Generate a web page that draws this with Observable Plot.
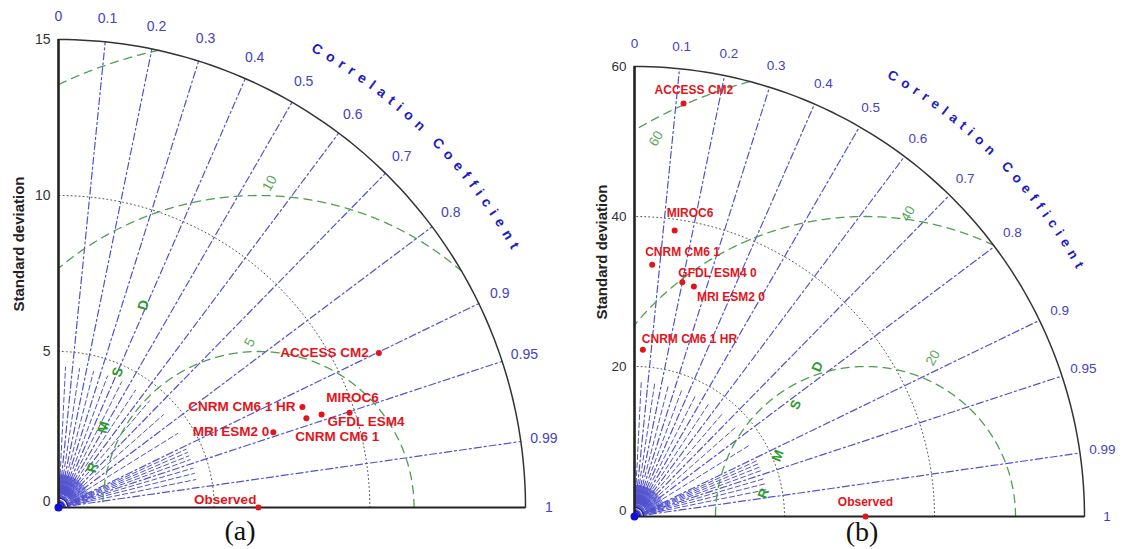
<!DOCTYPE html>
<html><head><meta charset="utf-8">
<script src="https://cdn.jsdelivr.net/npm/d3@7"></script>
<script src="https://cdn.jsdelivr.net/npm/@observablehq/plot@0.6"></script>
<style>
html,body{margin:0;padding:0;background:#fff}
body{width:1123px;height:549px;overflow:hidden;position:relative;font-family:"Liberation Sans",Arial,sans-serif}
#a{position:absolute;left:0;top:0}
#b{position:absolute;left:576px;top:0}
.cap{position:absolute;font-family:"Liberation Serif","Times New Roman",serif;font-size:28px;line-height:30px;transform:translateX(-50%);color:#111}
</style></head><body>
<div id="a"></div><div id="b"></div>
<div class="cap" style="left:240px;top:516px">(a)</div>
<div class="cap" style="left:862px;top:517px">(b)</div>
<script>
// ---------- data ----------
const corrTicks = [0, 0.1, 0.2, 0.3, 0.4, 0.5, 0.6, 0.7, 0.8, 0.9, 0.95, 0.99, 1];
const corrTickLabels = ["0", "0.1", "0.2", "0.3", "0.4", "0.5", "0.6", "0.7", "0.8", "0.9", "0.95", "0.99", "1"];
const corrMinor = [0.05, 0.15, 0.25, 0.35, 0.45, 0.55, 0.65, 0.75, 0.85, 0.91, 0.92, 0.93, 0.94, 0.96, 0.97, 0.98];

// panel (a)
const modelsA = ["ACCESS CM2", "CNRM CM6 1 HR", "CNRM CM6 1", "GFDL ESM4", "MIROC6", "MRI ESM2 0"];
const stdA = [11.42, 8.47, 8.46, 8.96, 9.83, 7.31];
const corrA = [0.901, 0.925, 0.941, 0.943, 0.951, 0.944];
const obsStdA = 6.42;
const stdTicksA = [0, 5, 10, 15];
const rmsTicksA = [5, 10, 15];

// panel (b)
const modelsB = ["ACCESS CM2", "MIROC6", "CNRM CM6 1", "GFDL ESM4 0", "MRI ESM2 0", "CNRM CM6 1 HR"];
const stdB = [55.45, 38.51, 33.64, 31.88, 31.67, 22.26];
const corrB = [0.118, 0.139, 0.070, 0.200, 0.250, 0.050];
const obsStdB = 30.8;
const stdTicksB = [0, 20, 40, 60];
const rmsTicksB = [20, 40, 60];

// ---------- styling / annotation placement ----------
const styleA = {
  width: 580, height: 522, ml: 58, mr: 55, mt: 39, mb: 15,
  tickFont: 14, corrFont: 14, modelFont: 13.5, titleFont: 14, sdFont: 15,
  title: {r: 1.125, a0: 60.5, a1: 29.8},
  sdLabelY: 244, sdLabelX: 20,
  labelOffsets: [["end", -10, 0], ["end", -7, 0], ["start", -11, 18], ["start", 6, 7], ["middle", 3, -15], ["end", -4, -1]],
  obsOffset: ["end", -2, -8],
  rmsLabel: [[93, 1.06], [88, 1.04], [88, 1.04]],
  rmsdLetters: [[1.09, 1.28], [1.45, 2.57], [1.90, 4.34], [2.73, 6.49]], rmsdRotate: -72
};
const styleB = {
  width: 547, height: 530, ml: 58, mr: 39, mt: 66, mb: 14,
  tickFont: 13.5, corrFont: 13.5, modelFont: 12, titleFont: 13.5, sdFont: 15,
  title: {r: 1.135, a0: 59.6, a1: 29.5},
  sdLabelY: 252, sdLabelX: 27,
  labelOffsets: [["start", -29, -13], ["start", -8, -17], ["start", -7, -13], ["start", -4, -9], ["start", 3, 11], ["start", -1, -11]],
  obsOffset: ["middle", 0, -14],
  rmsLabel: [[67, 1.15], [82, 1.02], [119, 0.96]],
  rmsdLetters: [[17.2, 3.07], [19.1, 8.1], [21.5, 14.9], [24.4, 20.0]], rmsdRotate: -68
};

const FONT = "Liberation Sans, Arial, sans-serif";
const BLUE_LINE = "#5252cf";
const BLUE_TXT = "#4343c4";
const BLUE_TITLE = "#1b1bc8";
const GREEN = "#4f9f4f";
const RED = "#e3151b";
const deg = Math.PI / 180;

const ctx = document.createElement("canvas").getContext("2d");
function textW(s, size) { ctx.font = `bold ${size}px ${FONT}`; return ctx.measureText(s).width; }

function taylor(sel, models, stds, corrs, obs, stdTicks, rmsTicks, st) {
  const R = stdTicks[stdTicks.length - 1];
  const pxu = (st.width - st.ml - st.mr) / R;
  const P = (r, c) => ({x: r * c, y: r * Math.sqrt(Math.max(0, 1 - c * c))});
  const inside = p => p.x >= -1e-9 && p.y >= -1e-9 && Math.hypot(p.x, p.y) <= R * 1.0005;

  // radial lines
  const major = corrTicks.filter(c => c > 0 && c < 1).flatMap(c => [{c, ...P(0, c)}, {c, ...P(R, c)}]);
  const minor = corrMinor.flatMap(c => [{c, ...P(0.02 * R, c)}, {c, ...P(0.3 * R, c)}]);
  const tiny = d3.range(1, 50).map(i => i / 50).flatMap(c => [{c, ...P(0.03 * R, c)}, {c, ...P(0.07 * R, c)}]);
  const rings = [0.012, 0.02].flatMap(f => d3.range(0, 91, 5).map(a => ({k: f, x: f * R * Math.cos(a * deg), y: f * R * Math.sin(a * deg)})));

  // std arcs
  const arcPts = (r, k) => d3.range(0, 91).map(a => ({k, x: r * Math.cos(a * deg), y: r * Math.sin(a * deg)}));
  const stdArcs = stdTicks.filter(t => t > 0 && t < R).flatMap(t => arcPts(t, t));
  const outer = arcPts(R, "o");

  // rms arcs centred on observed point
  const rmsArcs = rmsTicks.flatMap(v => d3.range(0, 1801).map(i => {
    const a = i / 10 * deg; return {k: v, x: obs + v * Math.cos(a), y: v * Math.sin(a)};
  }).filter(inside));
  const rmsLab = rmsTicks.map((v, i) => {
    const [a, f] = st.rmsLabel[i]; return {t: String(v), x: obs + v * f * Math.cos(a * deg), y: v * f * Math.sin(a * deg)};
  }).filter(inside);

  // correlation labels
  const cLab = corrTicks.map((c, i) => ({t: corrTickLabels[i], ...P(1.05 * R, c)}));

  // curved title
  const title = "Correlation Coefficient";
  const ws = [...title].map(ch => textW(ch, st.titleFont));
  const rpx = st.title.r * R * pxu;
  const L = rpx * (st.title.a0 - st.title.a1) * deg;
  const core = d3.sum(ws) - ws[0] / 2 - ws[ws.length - 1] / 2;
  const sp = (L - core) / (ws.length - 1);
  let s = 0;
  const tLetters = [...title].map((ch, i) => {
    if (i > 0) s += ws[i - 1] / 2 + sp + ws[i] / 2;
    const a = st.title.a0 * deg - s / rpx;
    return {ch, x: st.title.r * R * Math.cos(a), y: st.title.r * R * Math.sin(a), rot: 90 - a / deg};
  }).filter(d => d.ch !== " ");

  const rmsdL = ["R", "M", "S", "D"].map((ch, i) => ({ch, x: st.rmsdLetters[i][0], y: st.rmsdLetters[i][1]}));

  const pts = models.map((m, i) => ({m, ...P(stds[i], corrs[i])}));
  const obsPt = [{m: "Observed", x: obs, y: 0}];

  const marks = [
    Plot.line(stdArcs, {x: "x", y: "y", z: "k", stroke: "#555", strokeWidth: 1, strokeDasharray: "1,3"}),
    Plot.line(tiny, {x: "x", y: "y", z: "c", stroke: BLUE_LINE, strokeWidth: 0.9}),
    Plot.line(minor, {x: "x", y: "y", z: "c", stroke: BLUE_LINE, strokeWidth: 1, strokeDasharray: "5,3"}),
    Plot.line(major, {x: "x", y: "y", z: "c", stroke: BLUE_LINE, strokeWidth: 1.2, strokeDasharray: "7,3,2,3"}),
    Plot.line(rings, {x: "x", y: "y", z: "k", stroke: "#1515c8", strokeWidth: 1.2}),
    Plot.line(rmsArcs, {x: "x", y: "y", z: "k", stroke: GREEN, strokeWidth: 1.3, strokeDasharray: "8,6"}),
    Plot.line(outer, {x: "x", y: "y", stroke: "#333", strokeWidth: 1.5}),
    Plot.ruleY([0], {x1: 0, x2: R, stroke: "#222", strokeWidth: 2.2}),
    Plot.ruleX([0], {y1: 0, y2: R, stroke: "#222", strokeWidth: 2.6}),
    Plot.dot([{x: 0, y: 0}], {x: "x", y: "y", r: 4, fill: "#1010d0"}),
    Plot.text(stdTicks.filter(t => t > 0), {x: 0, y: d => d, text: d => String(d), dx: -8, textAnchor: "end", fill: "#333", fontSize: st.tickFont}),
    Plot.text([0], {x: 0, y: d => d, text: d => String(d), dx: -8, dy: -6, textAnchor: "end", fill: "#333", fontSize: st.tickFont}),
    Plot.text(cLab, {x: "x", y: "y", text: "t", fill: BLUE_TXT, fontSize: st.corrFont}),
    Plot.text(tLetters, {x: "x", y: "y", text: "ch", rotate: "rot", fill: BLUE_TITLE, fontSize: st.titleFont, fontWeight: "bold"}),
    Plot.text(rmsLab, {x: "x", y: "y", text: "t", rotate: -60, fill: "#5aa65a", fontSize: st.tickFont}),
    Plot.text(rmsdL, {x: "x", y: "y", text: "ch", rotate: st.rmsdRotate, fill: "#2f9a2f", fontSize: st.tickFont, fontWeight: "bold"}),
    Plot.dot(pts, {x: "x", y: "y", r: 3, fill: RED}),
    Plot.dot(obsPt, {x: "x", y: "y", r: 3, fill: RED}),
    ...pts.map((p, i) => Plot.text([p], {x: "x", y: "y", text: "m", textAnchor: st.labelOffsets[i][0], dx: st.labelOffsets[i][1], dy: st.labelOffsets[i][2], fill: RED, fontSize: st.modelFont, fontWeight: "bold"})),
    Plot.text(obsPt, {x: "x", y: "y", text: "m", textAnchor: st.obsOffset[0], dx: st.obsOffset[1], dy: st.obsOffset[2], fill: RED, fontSize: st.modelFont, fontWeight: "bold"})
  ];

  const chart = Plot.plot({
    width: st.width, height: st.height,
    marginLeft: st.ml, marginRight: st.mr, marginTop: st.mt, marginBottom: st.mb,
    x: {domain: [0, R], axis: null},
    y: {domain: [0, R], axis: null},
    style: {fontFamily: FONT, background: "transparent", overflow: "visible"},
    marks
  });
  chart.style.overflow = "visible";
  document.querySelector(sel).appendChild(chart);
  const svgNS = "http://www.w3.org/2000/svg";
  const t = document.createElementNS(svgNS, "text");
  t.setAttribute("transform", `translate(${st.sdLabelX},${st.sdLabelY}) rotate(-90)`);
  t.setAttribute("text-anchor", "middle");
  t.setAttribute("dominant-baseline", "middle");
  t.setAttribute("font-weight", "bold");
  t.setAttribute("font-size", st.sdFont);
  t.setAttribute("font-family", FONT);
  t.setAttribute("fill", "#222");
  t.textContent = "Standard deviation";
  chart.appendChild(t);
}

taylor("#a", modelsA, stdA, corrA, obsStdA, stdTicksA, rmsTicksA, styleA);
taylor("#b", modelsB, stdB, corrB, obsStdB, stdTicksB, rmsTicksB, styleB);
</script>
</body></html>
